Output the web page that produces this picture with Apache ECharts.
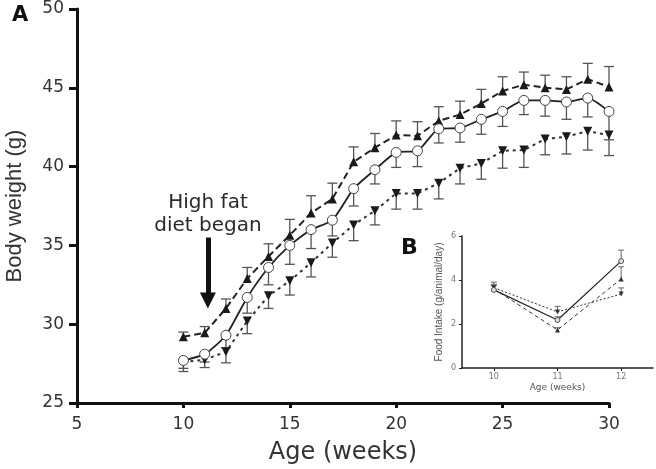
<!DOCTYPE html>
<html><head><meta charset="utf-8">
<script src="https://cdn.jsdelivr.net/npm/echarts@6/dist/echarts.min.js"></script>
<style>html,body{margin:0;padding:0;background:#fff}#c{width:656px;height:469px}</style>
</head><body><div id="c"></div>
<script>
// ---- main panel A data ----
const weeks = [10,11,12,13,14,15,16,17,18,19,20,21,22,23,24,25,26,27,28,29,30];
const circleVals = [27.7,28.1,29.3,31.7,33.6,35.0,36.0,36.6,38.6,39.8,40.9,41.0,42.4,42.45,43.0,43.5,44.2,44.2,44.1,44.35,43.5];
const upVals     = [29.2,29.45,31.0,32.9,34.3,35.65,37.05,37.95,40.3,41.2,42.0,41.95,42.9,43.3,44.0,44.8,45.2,45.0,44.9,45.55,45.05];
const downVals   = [27.6,27.75,28.25,30.2,31.8,32.75,33.9,35.15,36.3,37.2,38.3,38.3,38.95,39.9,40.2,41.0,41.05,41.75,41.9,42.25,42.0];
const circleErr  = [0.7,0.5,0.8,1.0,1.1,1.2,1.2,1.0,1.1,0.9,0.95,1.0,0.9,0.9,0.95,0.95,0.9,1.0,1.1,1.2,1.8];
const upErr      = [0.3,0.4,0.6,0.7,0.8,1.0,1.1,1.0,0.95,0.9,0.9,0.9,0.9,0.85,0.9,0.9,0.8,0.8,0.8,1.0,1.3];
const downErr    = [0.4,0.5,0.7,0.8,0.8,0.9,0.9,0.9,1.0,0.9,1.0,1.0,1.0,1.0,1.0,1.1,1.1,1.0,1.1,1.2,1.3];
const mainXTicks = [5,10,15,20,25,30];
const mainYTicks = [25,30,35,40,45,50];
const starsA = [[22,36.9],[26,38.85]];
const arrowX = 11.15, arrowFrom = 35.5, arrowTo = 31.5;

// ---- inset panel B data ----
const insetWeeks = [10,11,12];
const insetCircle = [3.55,2.18,4.86];
const insetUp     = [3.6,1.73,4.05];
const insetDown   = [3.65,2.55,3.36];
const insetCircleErr = [0.2,0.15,0.5];
const insetUpErr     = [0.2,0.1,0.55];
const insetDownErr   = [0.25,0.25,0.28];
const insetXTicks = [10,11,12];
const starsB = [[12,3.0]];

const pair = (xs, ys) => xs.map((x,i)=>[x, ys[i]]);
const errData = (xs, ys, es, dir) => xs.map((x,i)=>[x, ys[i], es[i], dir]);

function errSeries(data, xi, yi, cap, color, w, z){
  return {
    type:'custom', xAxisIndex:xi, yAxisIndex:yi, z:z, silent:true,
    renderItem:function(params, api){
      const x = api.value(0), y = api.value(1), e = api.value(2), d = api.value(3);
      const p0 = api.coord([x,y]);
      const p1 = api.coord([x,y + d*e]);
      return {type:'group', children:[
        {type:'line', shape:{x1:p0[0],y1:p0[1],x2:p1[0],y2:p1[1]}, style:{stroke:color,lineWidth:w}},
        {type:'line', shape:{x1:p1[0]-cap,y1:p1[1],x2:p1[0]+cap,y2:p1[1]}, style:{stroke:color,lineWidth:w}}
      ]};
    },
    data:data
  };
}

const wide = '"DejaVu Sans", Verdana, sans-serif';
const arial = 'Arial, "Liberation Sans", sans-serif';
const chart = echarts.init(document.getElementById('c'), null, {renderer:'canvas'});

const option = {
  animation:false,
  backgroundColor:'#fff',
  textStyle:{fontFamily:wide},
  grid:[
    {left:77, right:47, top:9, bottom:66, containLabel:false, outerBoundsMode:'none'},
    {left:462, top:236, width:191, height:132, containLabel:false, outerBoundsMode:'none'}
  ],
  xAxis:[
    {gridIndex:0, type:'value', min:5, max:30, interval:5,
     name:'Age (weeks)', nameLocation:'middle', nameGap:38,
     nameTextStyle:{fontSize:24, color:'#333', fontFamily:wide},
     axisLine:{lineStyle:{color:'#111', width:3}},
     axisTick:{length:5, lineStyle:{color:'#111', width:3}},
     axisLabel:{fontSize:17, color:'#333', margin:13, fontFamily:wide, customValues:mainXTicks},
     splitLine:{show:false}},
    {gridIndex:1, type:'value', min:9.5, max:12.5,
     name:'Age (weeks)', nameLocation:'middle', nameGap:15,
     nameTextStyle:{fontSize:9, color:'#555', fontFamily:wide},
     axisLine:{lineStyle:{color:'#222', width:1.5}},
     axisTick:{length:3, lineStyle:{color:'#222', width:1}, customValues:insetXTicks},
     axisLabel:{fontSize:8, color:'#777', margin:5, fontFamily:wide, customValues:insetXTicks},
     splitLine:{show:false}}
  ],
  yAxis:[
    {gridIndex:0, type:'value', min:25, max:50, interval:5,
     name:'Body weight (g)', nameLocation:'middle', nameGap:51,
     nameTextStyle:{fontSize:22, color:'#333', fontFamily:arial},
     axisLine:{show:true, lineStyle:{color:'#111', width:3}},
     axisTick:{show:true, inside:false, length:8, lineStyle:{color:'#111', width:3}},
     axisLabel:{fontSize:17, color:'#333', margin:13, fontFamily:wide, customValues:mainYTicks},
     splitLine:{show:false}},
    {gridIndex:1, type:'value', min:0, max:6, interval:2,
     name:'Food Intake (g/animal/day)', nameLocation:'middle', nameGap:18,
     nameTextStyle:{fontSize:10, color:'#555', fontFamily:arial},
     axisLine:{show:true, lineStyle:{color:'#222', width:1.5}},
     axisTick:{show:true, length:3, lineStyle:{color:'#222', width:1}},
     axisLabel:{fontSize:8, color:'#777', margin:6, fontFamily:wide},
     splitLine:{show:false}}
  ],
  graphic:[
    {type:'text', left:12, top:5, style:{text:'A', font:'bold 21px '+wide, fill:'#111'}},
    {type:'text', left:401, top:237, style:{text:'B', font:'bold 22px '+wide, fill:'#111'}},
    {type:'text', x:208, y:203, style:{text:'High fat', font:'20px '+wide, fill:'#2a2a2a', align:'center', verticalAlign:'middle'}},
    {type:'text', x:208, y:226, style:{text:'diet began', font:'20px '+wide, fill:'#2a2a2a', align:'center', verticalAlign:'middle'}}
  ],
  series:[
    errSeries(errData(weeks, upVals, upErr, 1), 0, 0, 5, '#555', 1.3, 2),
    errSeries(errData(weeks, circleVals, circleErr, -1), 0, 0, 5, '#555', 1.3, 2),
    errSeries(errData(weeks, downVals, downErr, -1), 0, 0, 5, '#555', 1.3, 2),
    {type:'line', name:'up', xAxisIndex:0, yAxisIndex:0, z:3, data:pair(weeks, upVals),
     symbol:'triangle', symbolSize:9, itemStyle:{color:'#1a1a1a'},
     lineStyle:{color:'#222', width:2, type:[7,4]}},
    {type:'line', name:'circle', xAxisIndex:0, yAxisIndex:0, z:4, data:pair(weeks, circleVals),
     smooth:0.2, symbol:'circle', symbolSize:10,
     itemStyle:{color:'#fff', borderColor:'#444', borderWidth:1},
     lineStyle:{color:'#222', width:1.8},
     markLine:{silent:true, symbol:['none','triangle'], symbolSize:[16,16], symbolRotate:180,
       lineStyle:{color:'#111', width:5, type:'solid'}, label:{show:false},
       data:[[{coord:[arrowX, arrowFrom]},{coord:[arrowX, arrowTo]}]]}},
    {type:'line', name:'down', xAxisIndex:0, yAxisIndex:0, z:3, data:pair(weeks, downVals),
     symbol:'triangle', symbolRotate:180, symbolSize:9, itemStyle:{color:'#1a1a1a'},
     lineStyle:{color:'#333', width:2, type:[3,4]}},
    {type:'scatter', xAxisIndex:0, yAxisIndex:0, data:starsA, symbol:'none',
     label:{show:true, position:'inside', formatter:'*', fontSize:17, color:'#555', fontFamily:arial}},
    // inset
    errSeries(errData(insetWeeks, insetCircle, insetCircleErr, 1), 1, 1, 3, '#666', 1, 2),
    errSeries(errData(insetWeeks, insetUp, insetUpErr, 1), 1, 1, 3, '#666', 1, 2),
    errSeries(errData(insetWeeks, insetDown, insetDownErr, 1), 1, 1, 3, '#666', 1, 2),
    {type:'line', xAxisIndex:1, yAxisIndex:1, z:4, data:pair(insetWeeks, insetCircle),
     symbol:'circle', symbolSize:5, itemStyle:{color:'#ddd', borderColor:'#555', borderWidth:1},
     lineStyle:{color:'#222', width:1.2}},
    {type:'line', xAxisIndex:1, yAxisIndex:1, z:3, data:pair(insetWeeks, insetUp),
     symbol:'triangle', symbolSize:5, itemStyle:{color:'#333'},
     lineStyle:{color:'#333', width:1, type:[4,3]}},
    {type:'line', xAxisIndex:1, yAxisIndex:1, z:3, data:pair(insetWeeks, insetDown),
     symbol:'triangle', symbolRotate:180, symbolSize:5, itemStyle:{color:'#333'},
     lineStyle:{color:'#333', width:1, type:[2,2]}},
    {type:'scatter', xAxisIndex:1, yAxisIndex:1, data:starsB, symbol:'none',
     label:{show:true, position:'inside', formatter:'*', fontSize:7, color:'#777'}}
  ]
};
chart.setOption(option);
</script>
</body></html>
